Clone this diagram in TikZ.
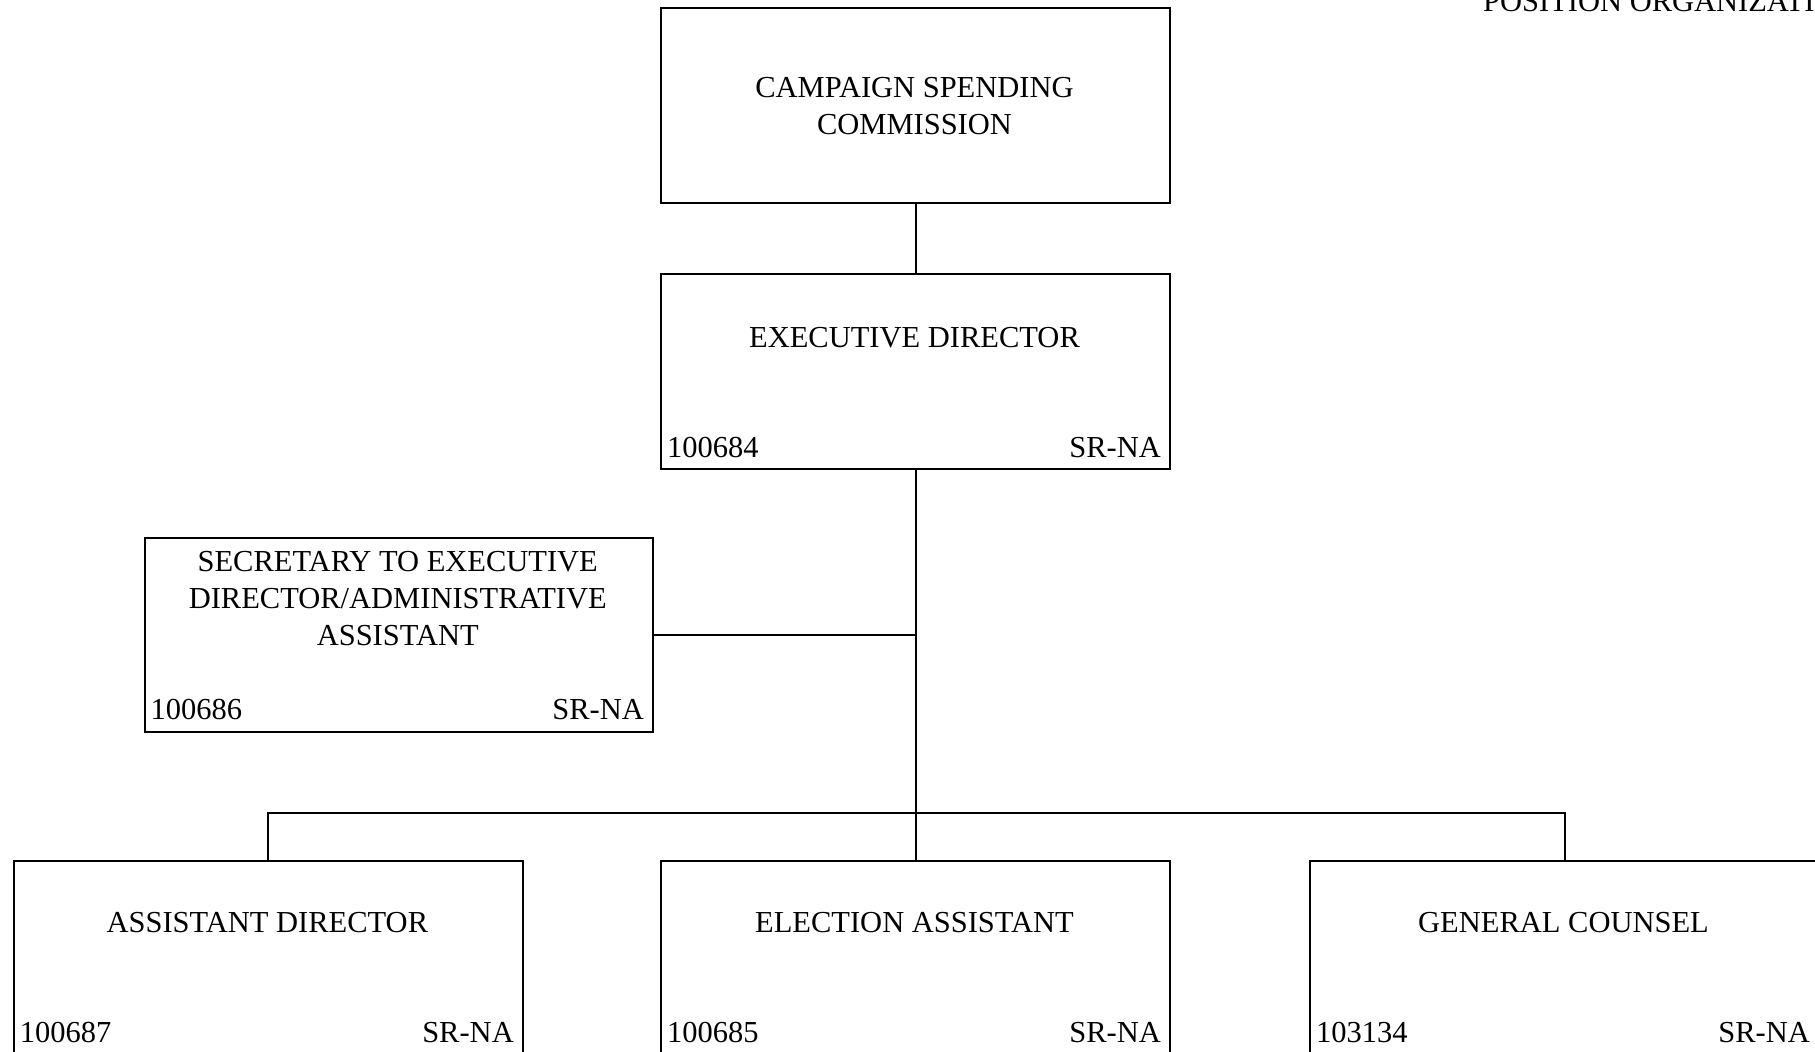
\documentclass[tikz,border=0pt]{standalone}
\usepackage{fontspec}
\setmainfont{Liberation Serif}
\begin{document}
\begin{tikzpicture}[x=1pt,y=-1pt,
  box/.style={draw, line width=2pt, minimum width=509pt, minimum height=195pt, inner sep=0pt, anchor=north west},
  txt/.style={font=\fontsize{30.5}{37}\selectfont, inner sep=0pt},
  title/.style={txt, align=center, anchor=base},
  code/.style={txt, anchor=base west},
  grade/.style={txt, anchor=base east},
  wire/.style={line width=2pt}]
\clip (0,0) rectangle (1815,1052);
\fill[white] (0,0) rectangle (1815,1052);

% header
\node[txt, anchor=base west] (hdr) at (1483,11) {POSITION ORGANIZATION CHART};

% boxes
\node[box] (comm) at (660,7) {};
\node[box] (exec) at (660,273) {};
\node[box, minimum width=508.5pt, minimum height=194pt] (sec) at (143.5,537) {};
\node[box, minimum width=509.3pt] (ad) at (12.7,860) {};
\node[box] (ea) at (660,860) {};
\node[box] (gc) at (1309,860) {};

% texts (base anchor = baseline of last line)
\node[title] (commT) at (914.5,134) {CAMPAIGN SPENDING\\COMMISSION};

\node[title] (execT) at (914.5,347) {EXECUTIVE DIRECTOR};
\node[code] (execC) at (667,457) {100684};
\node[grade] (execG) at (1161,457) {SR-NA};

\node[title] (secT) at (397.75,645.5) {SECRETARY TO EXECUTIVE\\DIRECTOR/ADMINISTRATIVE\\ASSISTANT};
\node[code] (secC) at (150.5,719) {100686};
\node[grade] (secG) at (644,719) {SR-NA};

\node[title] (adT) at (267.35,932.5) {ASSISTANT DIRECTOR};
\node[code] (adC) at (19.7,1042) {100687};
\node[grade] (adG) at (514,1042) {SR-NA};

\node[title] (eaT) at (914.5,932.5) {ELECTION ASSISTANT};
\node[code] (eaC) at (667,1042) {100685};
\node[grade] (eaG) at (1161,1042) {SR-NA};

\node[title] (gcT) at (1563.5,932.5) {GENERAL COUNSEL};
\node[code] (gcC) at (1316,1042) {103134};
\node[grade] (gcG) at (1810,1042) {SR-NA};

% connectors
\draw[wire] (comm.south) -- (exec.north);
\draw[wire] (exec.south) -- (ea.north);
\draw[wire] (sec.east) -- (sec.east -| exec.south);
\coordinate (bus) at (914.5,813);
\draw[wire] (ad.north) |- (bus) -| (gc.north);
\end{tikzpicture}
\end{document}
